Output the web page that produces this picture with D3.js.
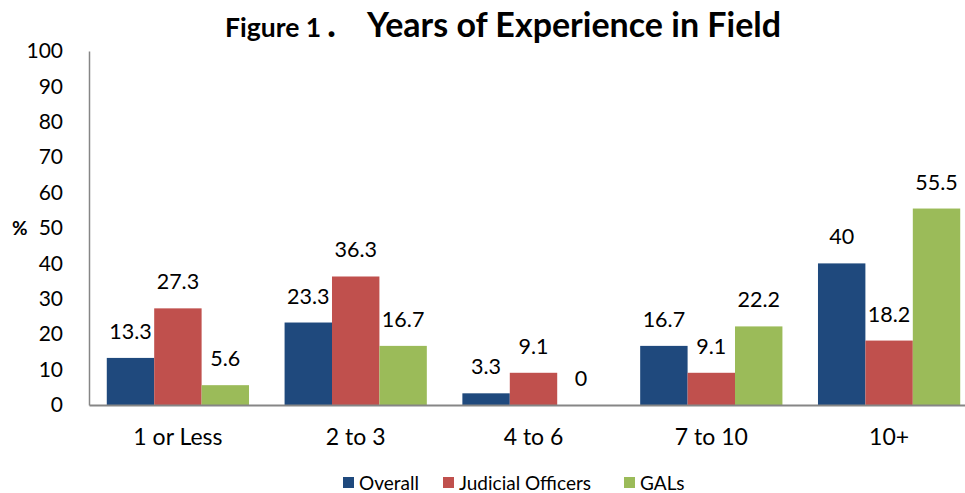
<!DOCTYPE html>
<html>
<head>
<meta charset="utf-8">
<script src="https://cdn.jsdelivr.net/npm/d3@7"></script>
<style>
  body { margin: 0; background: #fff; }
  svg text { font-family: Lato, "Open Sans", sans-serif; fill: #000; }
</style>
</head>
<body>
<div id="chart"></div>
<script>
var categories = ["1 or Less", "2 to 3", "4 to 6", "7 to 10", "10+"];
var seriesNames = ["Overall", "Judicial Officers", "GALs"];
var overall = [13.3, 23.3, 3.3, 16.7, 40];
var judicial = [27.3, 36.3, 9.1, 9.1, 18.2];
var gals = [5.6, 16.7, 0, 22.2, 55.5];
var yTicks = [0, 10, 20, 30, 40, 50, 60, 70, 80, 90, 100];
var colors = ["#1F497D", "#C0504D", "#9BBB59"];

var svgWidth = 965;
var svgHeight = 493;

var svg = d3.select("#chart")
            .append("svg")
            .attr("width", svgWidth)
            .attr("height", svgHeight);

var allSeries = [overall, judicial, gals];

// plot area runs past the right edge, like the original crop
var x0 = d3.scaleBand().domain(categories).range([89, 978]).paddingInner(0.2).paddingOuter(0.1);
var x1 = d3.scaleBand().domain(seriesNames).range([0, x0.bandwidth()]);
var y = d3.scaleLinear().domain([0, 100]).range([405, 51]);

// Title
var title = svg.append("text")
    .attr("y", 37)
    .style("font-weight", "bold");
title.append("tspan").attr("x", 225).style("font-size", "26.5px").text("Figure 1");
title.append("tspan").attr("x", 327).style("font-size", "38px").text(".");
title.append("tspan").attr("x", 367).style("font-size", "34px").text("Years of Experience in Field");

// Y axis
var leftAxis = d3.axisLeft(y).tickValues(yTicks).tickSize(0).tickPadding(26);
var yAxis = svg.append("g").attr("transform", "translate(89,0)").call(leftAxis);
yAxis.select(".domain").attr("stroke", "#868686").attr("stroke-width", 1.5);
yAxis.selectAll("text").style("font-size", "21px").style("font-family", "Lato, sans-serif");

svg.append("text")
    .attr("x", 12)
    .attr("y", y(50))
    .attr("dy", "0.35em")
    .style("font-size", "19px")
    .style("font-weight", "bold")
    .text("%");

// Bars
var groups = svg.selectAll(".group")
    .data(categories)
    .enter()
    .append("g")
    .attr("class", "group")
    .attr("transform", function(d) { return "translate(" + x0(d) + ",0)"; });

groups.selectAll("rect")
    .data(function(d, i) {
        return seriesNames.map(function(s, j) { return { name: s, value: allSeries[j][i], idx: j }; });
    })
    .enter()
    .append("rect")
    .attr("x", function(d) { return x1(d.name); })
    .attr("y", function(d) { return y(d.value); })
    .attr("width", x1.bandwidth())
    .attr("height", function(d) { return y(0) - y(d.value); })
    .attr("fill", function(d) { return colors[d.idx]; });

groups.selectAll(".val")
    .data(function(d, i) {
        return seriesNames.map(function(s, j) { return { name: s, value: allSeries[j][i] }; });
    })
    .enter()
    .append("text")
    .attr("class", "val")
    .attr("x", function(d) { return x1(d.name) + x1.bandwidth() / 2; })
    .attr("y", function(d) { return y(d.value) - 19; })
    .attr("text-anchor", "middle")
    .style("font-size", "21.5px")
    .text(function(d) { return d.value; });

// X axis
var bottomAxis = d3.axisBottom(x0).tickSize(0).tickPadding(24);
var xAxis = svg.append("g").attr("transform", "translate(0,405)").call(bottomAxis);
xAxis.select(".domain").attr("stroke", "#868686").attr("stroke-width", 2);
xAxis.selectAll("text").style("font-size", "23px").style("font-family", "Lato, sans-serif");

// Legend
var legendX = [343, 443, 624];
var legend = svg.selectAll(".legend")
    .data(seriesNames)
    .enter()
    .append("g")
    .attr("class", "legend")
    .attr("transform", function(d, i) { return "translate(" + legendX[i] + ",483)"; });

legend.append("rect")
    .attr("x", 0)
    .attr("y", -6)
    .attr("width", 11)
    .attr("height", 11)
    .attr("fill", function(d, i) { return colors[i]; });

legend.append("text")
    .attr("x", 16)
    .attr("y", 0)
    .attr("dy", "0.35em")
    .style("font-size", "19px")
    .text(function(d) { return d; });
</script>
</body>
</html>
